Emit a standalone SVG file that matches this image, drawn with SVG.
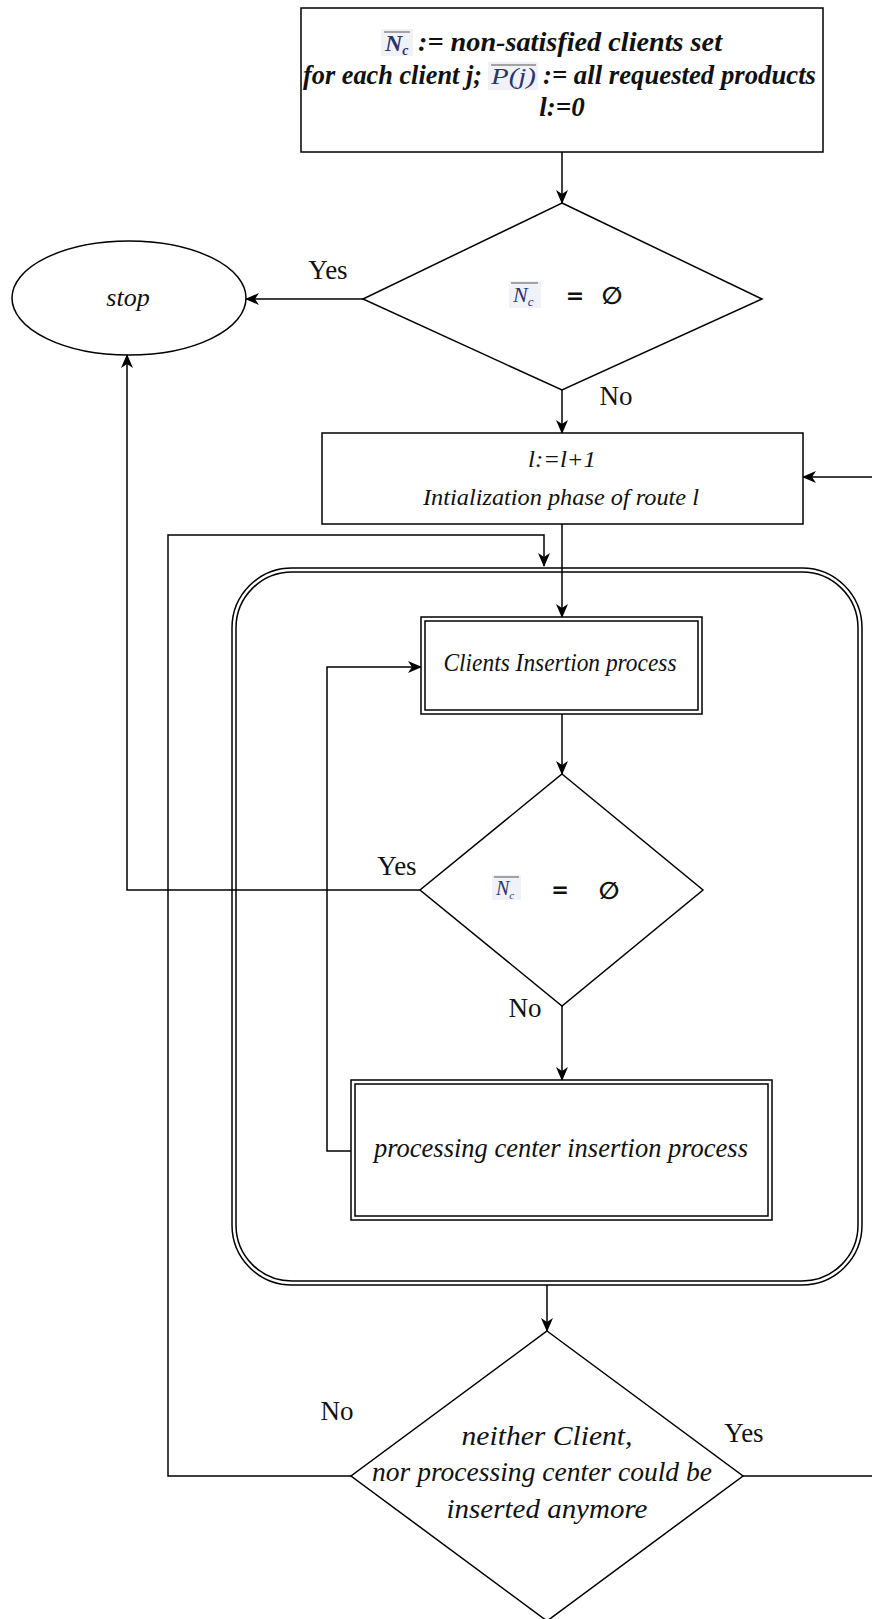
<svg xmlns="http://www.w3.org/2000/svg" width="872" height="1619" viewBox="0 0 872 1619">
<defs>
<marker id="arr" viewBox="0 0 14 12" refX="13" refY="6" markerWidth="14" markerHeight="12" markerUnits="userSpaceOnUse" orient="auto">
<path d="M0,0 L14,6 L0,12 L4,6 Z" fill="#000"/>
</marker>
<style>
.s{fill:#fff;stroke:#000;stroke-width:1.5}
.n{fill:none;stroke:#000;stroke-width:1.5}
.c{fill:none;stroke:#000;stroke-width:1.5;marker-end:url(#arr)}
.t{font-family:"Liberation Serif","Times New Roman",serif;font-style:italic;fill:#111;text-anchor:middle}
.tb{font-family:"Liberation Serif","Times New Roman",serif;font-style:italic;font-weight:bold;fill:#111}
.l{font-family:"Liberation Serif","Times New Roman",serif;fill:#111;font-size:27px;text-anchor:middle}
.m{font-family:"Liberation Serif","Times New Roman",serif;font-style:italic;fill:#2a3570}
.bg{fill:#f1f2f8;stroke:none}
.ov{stroke:#555;stroke-width:1}
.eq{font-family:"DejaVu Sans",sans-serif;font-weight:bold;fill:#111;text-anchor:middle}
</style>
</defs>
<rect width="872" height="1619" fill="#fff"/>

<g id="connectors">
<path class="c" d="M562,152 L562,203"/>
<path class="c" d="M363,299 L246,299"/>
<path class="c" d="M562,390 L562,433"/>
<path class="c" d="M872,477 L803,477"/>
<path class="c" d="M562,524 L562,617"/>
<path class="c" d="M351,1476 L168,1476 L168,535 L544,535 L544,566"/>
<path class="c" d="M562,714 L562,774"/>
<path class="c" d="M420,890 L127,890 L127,355"/>
<path class="c" d="M562,1006 L562,1080"/>
<path class="c" d="M351,1151 L327,1151 L327,667 L421,667"/>
<path class="c" d="M547,1285 L547,1331"/>
<path class="n" d="M743,1476 L872,1476"/>
</g>

<g id="init">
<rect class="s" x="301" y="8" width="522" height="144"/>
<rect class="bg" x="381" y="29" width="32" height="27"/>
<line class="ov" x1="384" y1="32" x2="410" y2="32"/>
<text class="m" x="385" y="51" font-size="24" font-weight="bold">N<tspan font-size="14" dy="4">c</tspan></text>
<text class="tb" x="418" y="51" font-size="27" textLength="304" lengthAdjust="spacingAndGlyphs">:= non-satisfied clients set</text>
<text class="tb" x="303" y="84" font-size="27" textLength="179" lengthAdjust="spacingAndGlyphs">for each client j;</text>
<rect class="bg" x="488" y="62" width="50" height="28"/>
<line class="ov" x1="491" y1="65" x2="536" y2="65"/>
<text class="m" x="491" y="84" font-size="24" textLength="45" lengthAdjust="spacingAndGlyphs">P(j)</text>
<text class="tb" x="543" y="84" font-size="27" textLength="273" lengthAdjust="spacingAndGlyphs">:= all requested products</text>
<text class="tb" x="562" y="116" font-size="27" text-anchor="middle">l:=0</text>
</g>

<g id="stop">
<ellipse class="s" cx="129" cy="298" rx="117" ry="57"/>
<text class="t" x="128" y="306" font-size="26">stop</text>
</g>

<g id="check1">
<polygon class="s" points="562,203 762,299 562,390 363,299"/>
<rect class="bg" x="509" y="281" width="32" height="27"/>
<line class="ov" x1="511" y1="283" x2="538" y2="283"/>
<text class="m" x="513" y="302" font-size="22">N<tspan font-size="13" dy="4">c</tspan></text>
<text class="eq" x="575" y="303" font-size="22">=</text>
<text class="eq" x="612" y="304" font-size="24">∅</text>
</g>

<g id="init-route">
<rect class="s" x="322" y="433" width="481" height="91"/>
<text class="t" x="562" y="467" font-size="23" textLength="68" lengthAdjust="spacingAndGlyphs">l:=l+1</text>
<text class="t" x="561" y="505" font-size="24" textLength="276" lengthAdjust="spacingAndGlyphs">Intialization phase of route l</text>
</g>

<g id="container">
<rect class="n" x="232" y="568" width="630" height="717" rx="60"/>
<rect class="n" x="236" y="572" width="622" height="709" rx="56"/>
</g>

<g id="clients">
<rect class="s" x="421" y="617" width="281" height="97"/>
<rect class="n" x="425" y="621" width="273" height="89"/>
<text class="t" x="560" y="671" font-size="25" textLength="233" lengthAdjust="spacingAndGlyphs">Clients Insertion process</text>
</g>

<g id="check2">
<polygon class="s" points="562,774 703,890 562,1006 420,890"/>
<rect class="bg" x="492" y="875" width="29" height="25"/>
<line class="ov" x1="494" y1="877" x2="519" y2="877"/>
<text class="m" x="496" y="895" font-size="20">N<tspan font-size="11" dy="4">c</tspan></text>
<text class="eq" x="560" y="897" font-size="21">=</text>
<text class="eq" x="609" y="899" font-size="24">∅</text>
</g>

<g id="processing">
<rect class="s" x="351" y="1080" width="421" height="140"/>
<rect class="n" x="355" y="1084" width="413" height="132"/>
<text class="t" x="561" y="1157" font-size="27" textLength="374" lengthAdjust="spacingAndGlyphs">processing center insertion process</text>
</g>

<g id="check3">
<polygon class="s" points="547,1331 743,1476 547,1621 351,1476"/>
<text class="t" x="547" y="1445" font-size="27" textLength="171" lengthAdjust="spacingAndGlyphs">neither Client,</text>
<text class="t" x="542" y="1481" font-size="27" textLength="340" lengthAdjust="spacingAndGlyphs">nor processing center could be</text>
<text class="t" x="547" y="1518" font-size="27" textLength="201" lengthAdjust="spacingAndGlyphs">inserted anymore</text>
</g>

<g id="labels">
<text class="l" x="328" y="279">Yes</text>
<text class="l" x="616" y="405">No</text>
<text class="l" x="397" y="875">Yes</text>
<text class="l" x="525" y="1017">No</text>
<text class="l" x="337" y="1420">No</text>
<text class="l" x="744" y="1442">Yes</text>
</g>
</svg>
